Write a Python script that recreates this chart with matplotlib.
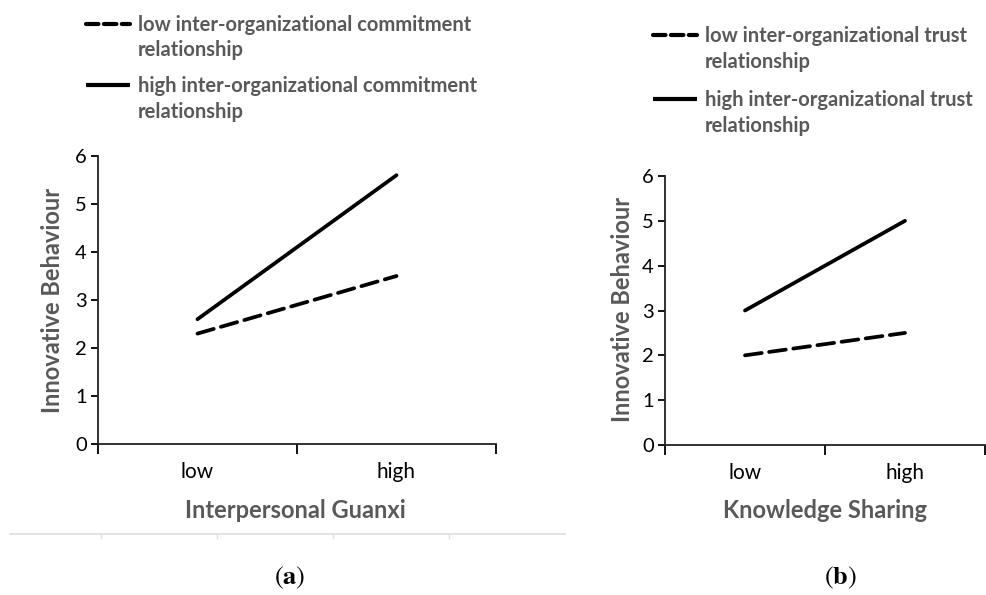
import matplotlib
matplotlib.use("Agg")
import matplotlib.pyplot as plt
from matplotlib.lines import Line2D

plt.rcParams['font.family'] = ['Lato', 'DejaVu Sans']
plt.rcParams['mathtext.fontset'] = 'stix'

categories = ["low", "high"]
a_low = [2.3, 3.5]
a_high = [2.6, 5.6]
b_low = [2.0, 2.5]
b_high = [3.0, 5.0]
yticks = [0, 1, 2, 3, 4, 5, 6]

a_labels = ["low inter-organizational commitment\nrelationship",
            "high inter-organizational commitment\nrelationship"]
b_labels = ["low inter-organizational trust\nrelationship",
            "high inter-organizational trust\nrelationship"]

GRAY = "#595959"
W, H = 986, 595
fig = plt.figure(figsize=(W / 100, H / 100), dpi=100)

def fx(px):
    return px / W

def fy(py):
    return 1 - py / H

def legend(labels, x0, ys):
    styles = [dict(dashes=(3.0, 1.3), dash_capstyle="round"), dict(solid_capstyle="butt")]
    for lab, y, st in zip(labels, ys, styles):
        fig.add_artist(Line2D([fx(x0), fx(x0 + 44)], [fy(y), fy(y)], color="black",
                              lw=3.0, **st))
        for i, line in enumerate(lab.split("\n")):
            fig.text(fx(x0 + 52), fy(y + 1 + 25.5 * i), line, ha="left", va="center",
                     fontsize=14.5, fontweight="bold", color=GRAY)

def panel(rect, low, high, xlabel):
    ax = fig.add_axes(rect)
    xs = [0.5, 1.5]
    ax.plot(xs, high, color="black", lw=2.7, solid_capstyle="round")
    ax.plot(xs, low, color="black", lw=2.7, dashes=(4.5, 2.0), dash_capstyle="round")
    ax.set_xlim(0, 2)
    ax.set_ylim(0, 6)
    ax.set_yticks(yticks)
    ax.set_xticks([0, 1, 2])
    ax.set_xticklabels([])
    ax.set_xticks(xs, minor=True)
    ax.set_xticklabels(categories, minor=True)
    ax.tick_params(axis="x", which="minor", length=0, pad=13, labelsize=15)
    ax.tick_params(axis="x", which="major", length=7, width=1.3, direction="out")
    ax.tick_params(axis="y", length=5, width=1.3, labelsize=14.5, pad=3)
    for s in ["top", "right"]:
        ax.spines[s].set_visible(False)
    for s in ["left", "bottom"]:
        ax.spines[s].set_linewidth(1.3)
        ax.spines[s].set_color("#222222")
    ax.set_ylabel("Innovative Behaviour", fontsize=17, fontweight="bold", color=GRAY,
                  va="center")
    ax.set_xlabel(xlabel, fontsize=17, fontweight="bold", color=GRAY, va="center")
    return ax

axa = panel([fx(98), fy(444), fx(496) - fx(98), fy(156) - fy(444)],
            a_low, a_high, "Interpersonal Guanxi")
axb = panel([fx(665), fy(445), fx(985) - fx(665), fy(176) - fy(445)],
            b_low, b_high, "Knowledge Sharing")
axa.yaxis.set_label_coords(fx(53), fy(300), transform=fig.transFigure)
axb.yaxis.set_label_coords(fx(622), fy(309), transform=fig.transFigure)
axa.xaxis.set_label_coords(fx(295), fy(510), transform=fig.transFigure)
axb.xaxis.set_label_coords(fx(825), fy(510), transform=fig.transFigure)

legend(a_labels, 86, [24, 85])
legend(b_labels, 653, [35, 99])

# faint table rule under panel (a)
fig.add_artist(Line2D([fx(10), fx(565)], [fy(534), fy(534)], color="#dddddd", lw=1.2))
for px in [101, 217, 333, 449]:
    fig.add_artist(Line2D([fx(px), fx(px)], [fy(534), fy(538)], color="#dddddd", lw=1.0))

fig.text(fx(290), fy(578), r"($\mathbf{a}$)", ha="center", va="center", fontsize=19,
         family="STIXGeneral")
fig.text(fx(840), fy(578), r"($\mathbf{b}$)", ha="center", va="center", fontsize=19,
         family="STIXGeneral")

fig.savefig("out.png", dpi=100)
